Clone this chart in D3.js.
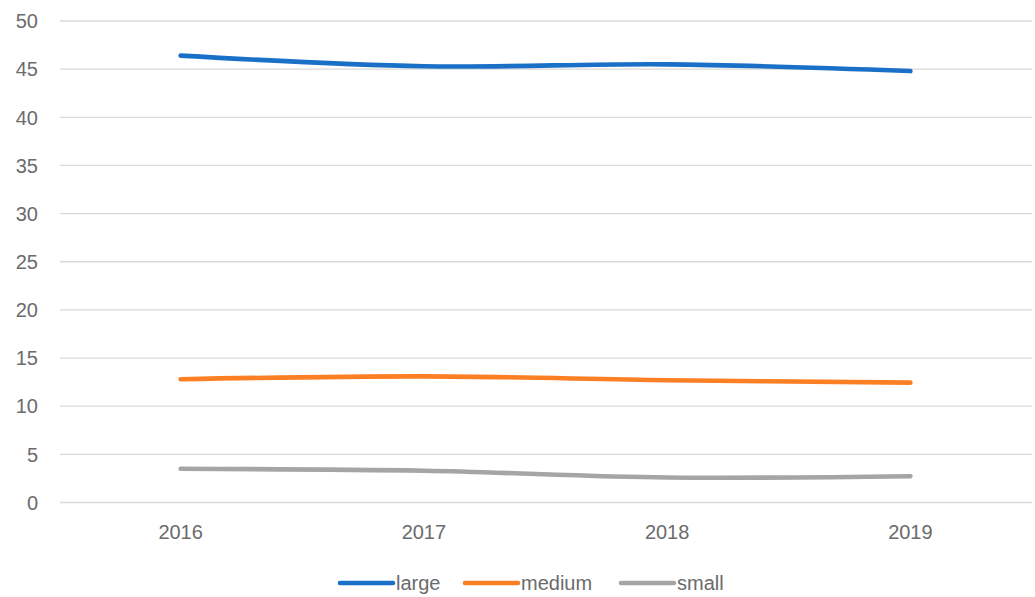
<!DOCTYPE html>
<html>
<head>
<meta charset="utf-8">
<script src="https://cdn.jsdelivr.net/npm/d3@7"></script>
<style>
  html, body { margin: 0; padding: 0; background: #fff; }
  svg { display: block; }
  text { font-family: "Liberation Sans", Arial, sans-serif; fill: #6b6b6b; }
</style>
</head>
<body>
<svg id="chart" width="1035" height="597"></svg>
<script>
const categories = ["2016", "2017", "2018", "2019"];
const seriesNames = ["large", "medium", "small"];
const largeValues = [46.4, 45.3, 45.5, 44.8];
const mediumValues = [12.8, 13.1, 12.7, 12.45];
const smallValues = [3.5, 3.3, 2.6, 2.72];
const yTicks = [0, 5, 10, 15, 20, 25, 30, 35, 40, 45, 50];
const colors = ["#1a6fc7", "#fd7f23", "#a5a5a5"];

const series = [
  { name: seriesNames[0], values: largeValues, color: colors[0] },
  { name: seriesNames[1], values: mediumValues, color: colors[1] },
  { name: seriesNames[2], values: smallValues, color: colors[2] }
];

const svg = d3.select("#chart");
const plotLeft = 59, plotRight = 1032, plotTop = 21, plotBottom = 502.5;

const x = d3.scaleBand().domain(categories).range([plotLeft, plotRight]);
const y = d3.scaleLinear().domain([0, 50]).range([plotBottom, plotTop]);

// gridlines
svg.append("g")
  .selectAll("line")
  .data(yTicks)
  .join("line")
  .attr("x1", plotLeft + 1).attr("x2", plotRight)
  .attr("y1", d => y(d)).attr("y2", d => y(d))
  .attr("stroke", "#d9d9d9").attr("stroke-width", 1.3);

// y axis labels
svg.append("g")
  .selectAll("text")
  .data(yTicks)
  .join("text")
  .attr("x", 38)
  .attr("y", d => y(d))
  .attr("dy", "0.36em")
  .attr("text-anchor", "end")
  .attr("font-size", 20)
  .text(d => d);

// x axis labels
svg.append("g")
  .selectAll("text")
  .data(categories)
  .join("text")
  .attr("x", d => x(d) + x.bandwidth() / 2)
  .attr("y", 539)
  .attr("text-anchor", "middle")
  .attr("font-size", 20)
  .text(d => d);

const line = d3.line()
  .x((d, i) => x(categories[i]) + x.bandwidth() / 2)
  .y(d => y(d))
  .curve(d3.curveCatmullRom.alpha(0.5));

svg.append("g")
  .selectAll("path")
  .data(series)
  .join("path")
  .attr("d", d => line(d.values))
  .attr("fill", "none")
  .attr("stroke", d => d.color)
  .attr("stroke-width", 4.6)
  .attr("stroke-linecap", "round")
  .attr("stroke-linejoin", "round");

// legend
const legendX = [340, 465, 621];
const lg = svg.append("g")
  .selectAll("g")
  .data(series)
  .join("g")
  .attr("transform", (d, i) => `translate(${legendX[i]},583)`);
lg.append("line")
  .attr("x1", 0).attr("x2", 53)
  .attr("y1", 0).attr("y2", 0)
  .attr("stroke", d => d.color)
  .attr("stroke-width", 4.6)
  .attr("stroke-linecap", "round");
lg.append("text")
  .attr("x", 56)
  .attr("y", 7)
  .attr("font-size", 20)
  .text(d => d.name);
</script>
</body>
</html>
